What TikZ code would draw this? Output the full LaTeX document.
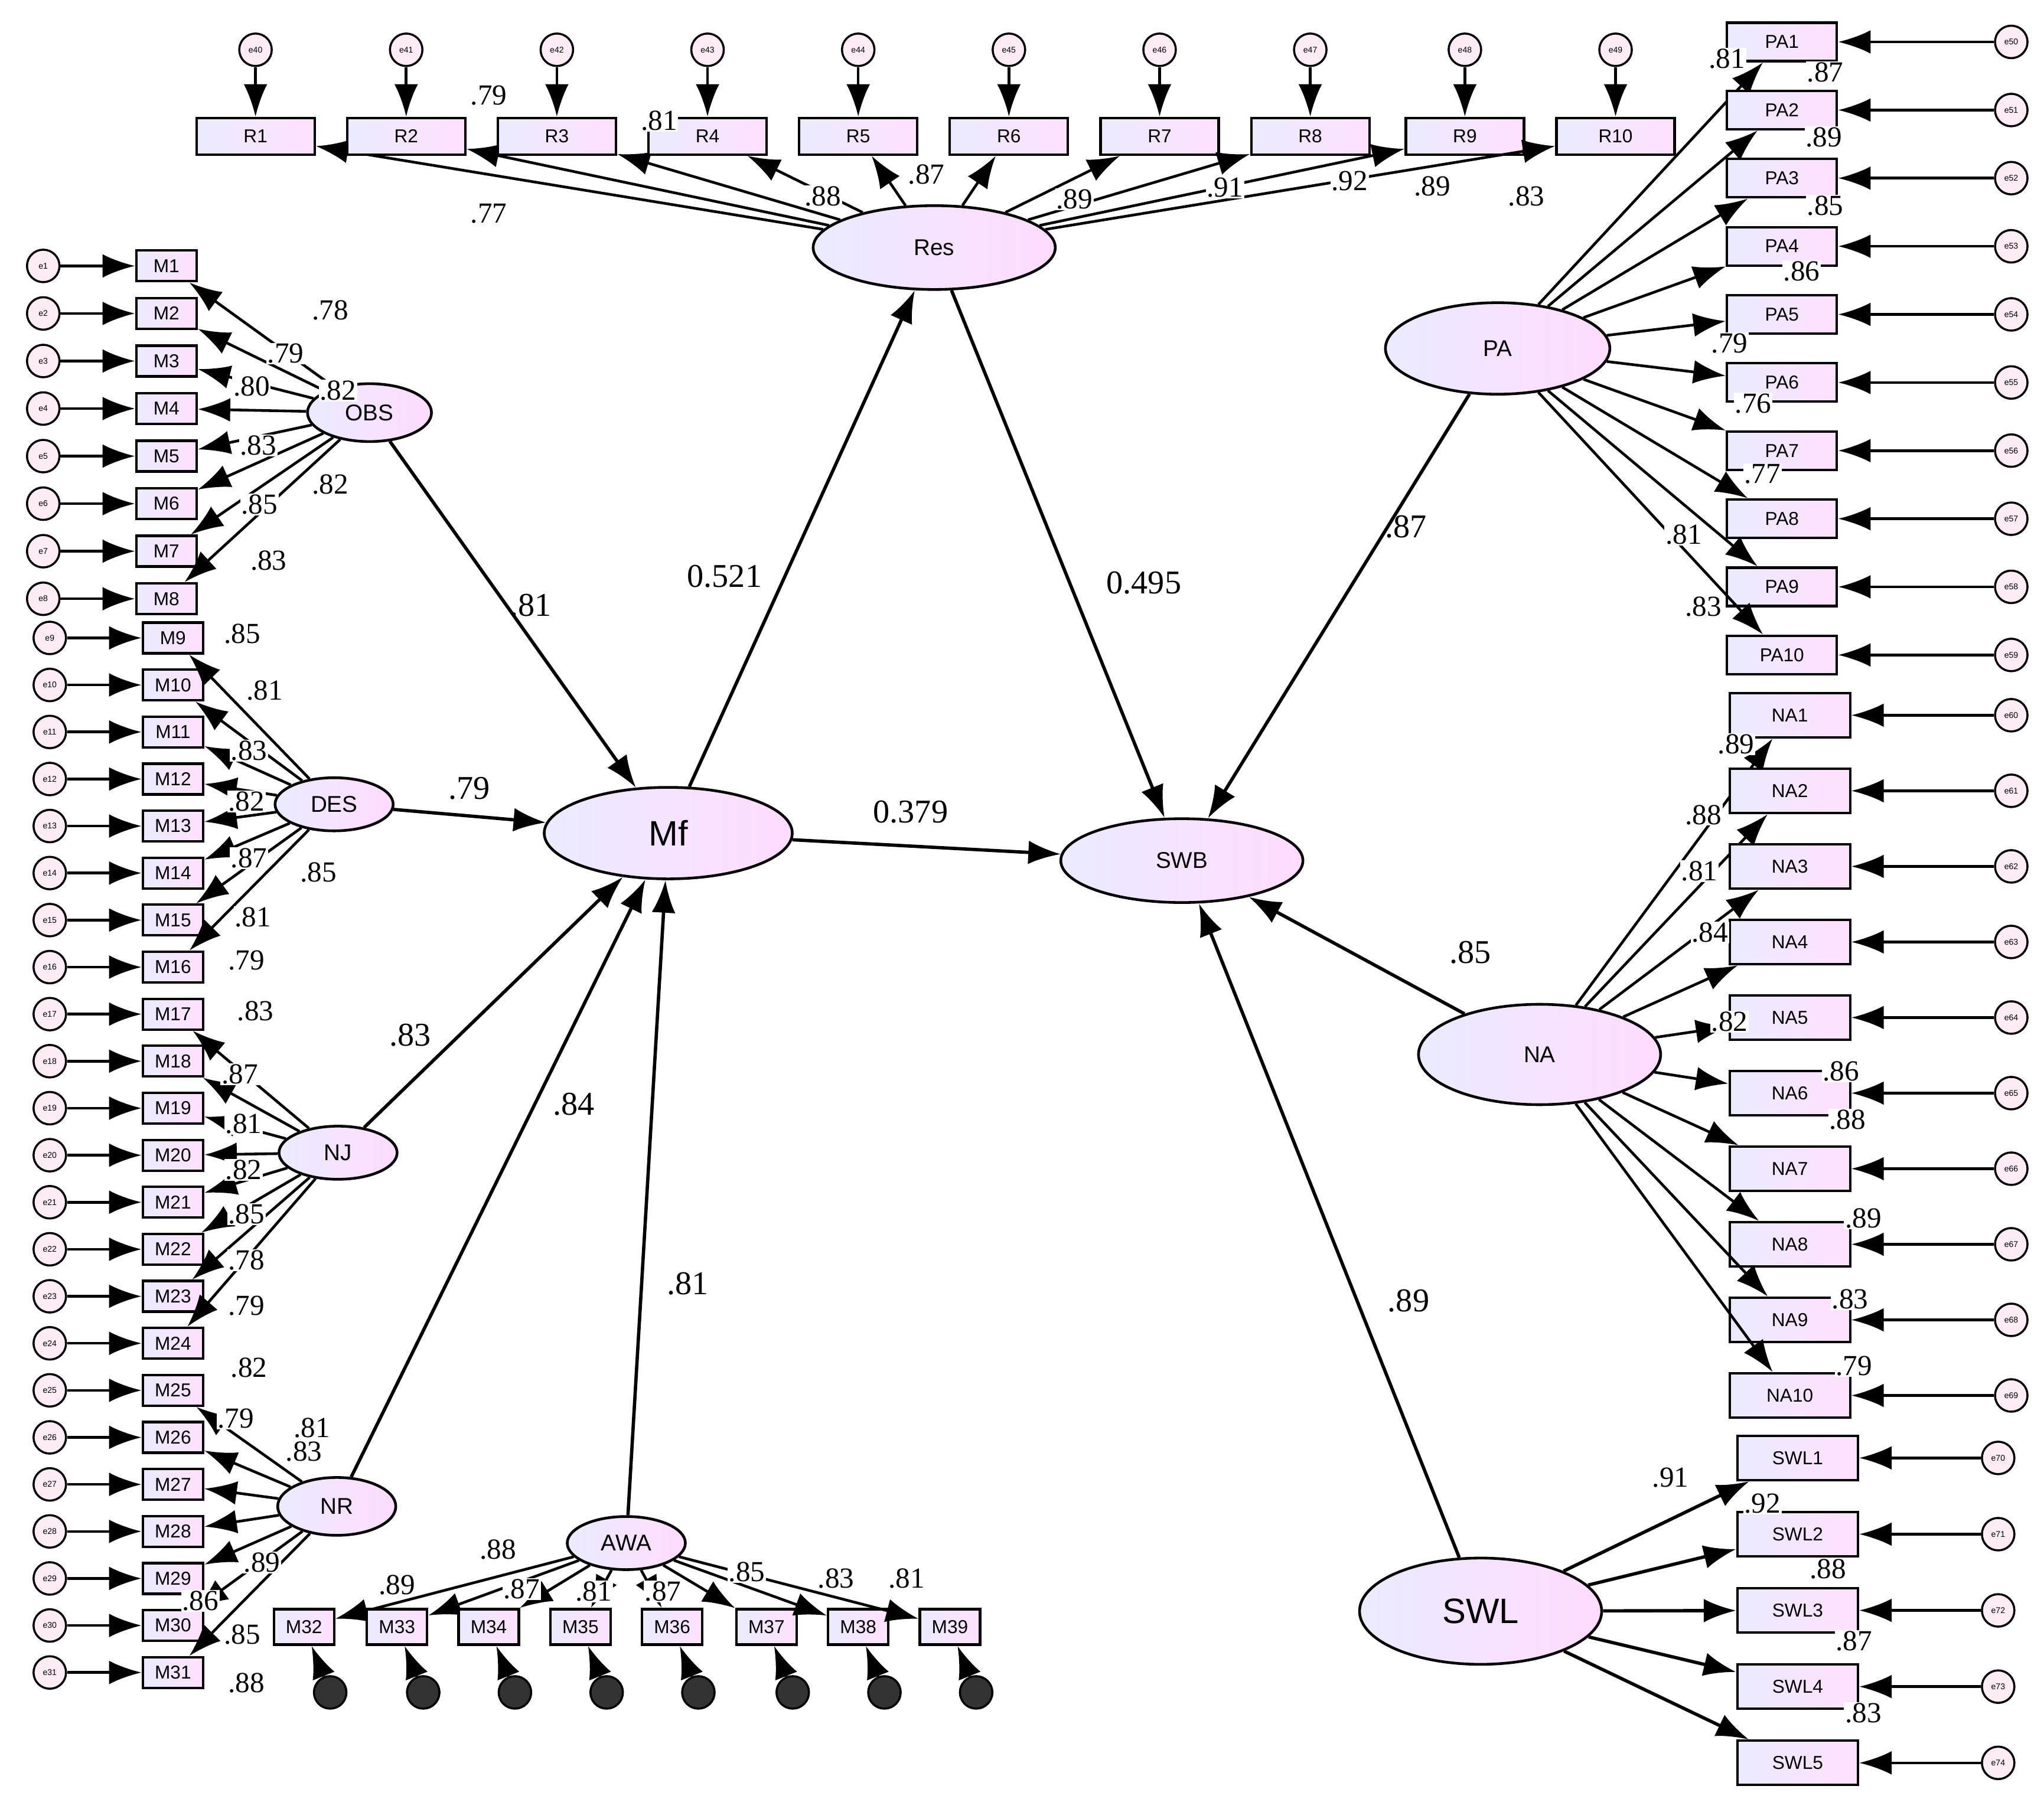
\documentclass[tikz,border=0pt]{standalone}
\usepackage{fontspec}
\setmainfont{Liberation Serif}
\newfontfamily\sff{Liberation Sans}
\usetikzlibrary{shapes.geometric,arrows.meta}
\begin{document}
\begin{tikzpicture}[x=0.02218cm,y=-0.02218cm,
 bx/.style={draw,line width=1.2pt,left color=blue!8,right color=magenta!12,inner sep=0pt,font=\sff\fontsize{9}{9}\selectfont},
 lv/.style={draw,ellipse,line width=1.3pt,left color=blue!8,right color=magenta!14,inner sep=0pt,font=\sff\fontsize{11}{11}\selectfont},
 er/.style={draw,circle,line width=1pt,fill=magenta!8,minimum size=0.55cm,inner sep=0pt,font=\sff\fontsize{4}{4}\selectfont},
 ar/.style={line width=1.3pt,-{Latex[length=5.5mm,width=4mm]}},
 sar/.style={line width=1.6pt,-{Latex[length=5.5mm,width=4mm]}},
 lb/.style={font=\fontsize{14}{14}\selectfont,fill=white,inner sep=0.5pt},
 bl/.style={font=\fontsize{16}{16}\selectfont,inner sep=1pt}]
\useasboundingbox (0,0) rectangle (1560,1373);
% latent
\node[lv,minimum width=4.1cm,minimum height=1.42cm] (Res) at (713,189) {Res};
\node[lv,minimum width=4.2cm,minimum height=1.55cm,font=\sff\fontsize{17}{17}\selectfont] (Mf) at (510,636) {Mf};
\node[lv,minimum width=4.1cm,minimum height=1.42cm] (SWB) at (902,657) {SWB};
\node[lv,minimum width=3.8cm,minimum height=1.55cm] (PA) at (1143,266) {PA};
\node[lv,minimum width=4.1cm,minimum height=1.7cm] (NA) at (1175,805) {NA};
\node[lv,minimum width=4.1cm,minimum height=1.8cm,font=\sff\fontsize{17}{17}\selectfont] (SWL) at (1130,1230) {SWL};
\node[lv,minimum width=2.1cm,minimum height=0.98cm] (OBS) at (282,315) {OBS};
\node[lv,minimum width=2.0cm,minimum height=0.9cm] (DES) at (255,614) {DES};
\node[lv,minimum width=2.0cm,minimum height=0.9cm] (NJ) at (258,880) {NJ};
\node[lv,minimum width=2.0cm,minimum height=0.98cm] (NR) at (257,1150) {NR};
\node[lv,minimum width=2.0cm,minimum height=0.9cm] (AWA) at (478,1178) {AWA};
% top R
\foreach \i/\x in {1/195,2/310,3/425,4/540,5/655,6/770,7/885,8/1000,9/1118,10/1233}{
 \node[bx,minimum width=2.0cm,minimum height=0.62cm] (R\i) at (\x,104) {R\i};
 \pgfmathtruncatemacro\e{39+\i}
 \node[er] (eR\i) at (\x,38) {e\e};
 \draw[ar] (eR\i) -- (R\i);
 \draw[ar] (Res) -- (R\i);}
% left M1-M8
\foreach \i in {1,...,8}{
 \pgfmathsetmacro\y{203+(\i-1)*36.3}
 \node[bx,minimum width=1.02cm,minimum height=0.52cm] (M\i) at (127,\y) {M\i};
 \node[er] (eM\i) at (33,\y) {e\i};
 \draw[ar] (eM\i) -- (M\i);
 \draw[ar] (OBS) -- (M\i);}
\foreach \i in {9,...,31}{
 \pgfmathsetmacro\y{487+(\i-9)*35.9}
 \node[bx,minimum width=1.02cm,minimum height=0.52cm] (M\i) at (132,\y) {M\i};
 \node[er] (eM\i) at (38,\y) {e\i};
 \draw[ar] (eM\i) -- (M\i);}
\foreach \i in {9,...,16}{\draw[ar] (DES) -- (M\i);}
\foreach \i in {17,...,24}{\draw[ar] (NJ) -- (M\i);}
\foreach \i in {25,...,31}{\draw[ar] (NR) -- (M\i);}
% bottom M32-39
\foreach \i/\x in {32/232,33/303,34/373,35/443,36/513,37/585,38/655,39/725}{
 \node[bx,minimum width=1.02cm,minimum height=0.6cm] (M\i) at (\x,1242) {M\i};
 \node[er,fill=black!80] (eM\i) at (\x+20,1292) {};
 \draw[ar] (eM\i) -- (M\i);
 \draw[ar] (AWA) -- (M\i);}
% PA
\foreach \i in {1,...,10}{
 \pgfmathsetmacro\y{32+(\i-1)*52}
 \node[bx,minimum width=1.86cm,minimum height=0.65cm] (PA\i) at (1360,\y) {PA\i};
 \pgfmathtruncatemacro\e{49+\i}
 \node[er] (ePA\i) at (1535,\y) {e\e};
 \draw[ar] (ePA\i) -- (PA\i);
 \draw[ar] (PA) -- (PA\i);}
\foreach \i in {1,...,10}{
 \pgfmathsetmacro\y{546+(\i-1)*57.7}
 \node[bx,minimum width=2.04cm,minimum height=0.75cm] (NA\i) at (1366,\y) {NA\i};
 \pgfmathtruncatemacro\e{59+\i}
 \node[er] (eNA\i) at (1535,\y) {e\e};
 \draw[ar] (eNA\i) -- (NA\i);
 \draw[ar] (NA) -- (NA\i);}
\foreach \i in {1,...,5}{
 \pgfmathsetmacro\y{1113+(\i-1)*58.2}
 \node[bx,minimum width=2.04cm,minimum height=0.75cm] (SWL\i) at (1372,\y) {SWL\i};
 \pgfmathtruncatemacro\e{69+\i}
 \node[er] (eSWL\i) at (1525,\y) {e\e};
 \draw[ar] (eSWL\i) -- (SWL\i);
 \draw[sar] (SWL) -- (SWL\i);}
% structural
\foreach \a/\b in {OBS/Mf,DES/Mf,NJ/Mf,NR/Mf,AWA/Mf,Mf/Res,Mf/SWB,Res/SWB,PA/SWB,NA/SWB,SWL/SWB}{\draw[sar] (\a) -- (\b);}
% structural labels
\foreach \t/\x/\y in {.81/405/462,.79/358/602,.83/313/790,.84/438/843,.81/525/980,0.521/553/440,0.379/695/620,0.495/873/445,.87/1073/402,.85/1122/727,.89/1075/993}{\node[bl] at (\x,\y) {\t};}
% loading labels
\foreach \t/\x/\y in {.77/373/163,.79/373/73,.81/503/92,.88/628/150,.87/707/133,.89/820/152,.91/935/143,.92/1030/138,.89/1093/142,.83/1165/150,
.78/252/237,.79/218/270,.80/192/295,.82/258/298,.83/197/340,.85/198/385,.82/252/370,.83/205/428,
.85/185/484,.81/202/527,.83/190/573,.82/188/612,.87/190/655,.85/243/666,.81/193/700,.79/188/733,
.83/195/772,.87/183/820,.81/186/858,.82/186/893,.85/188/927,.78/188/962,.79/188/997,.82/190/1044,
.79/180/1083,.81/238/1090,.83/232/1108,.89/200/1193,.86/153/1222,.85/185/1248,.88/188/1285,
.88/380/1183,.89/303/1210,.87/398/1213,.81/453/1215,.87/506/1215,.85/570/1200,.83/638/1205,.81/692/1205,
.81/1318/45,.87/1393/55,.89/1392/105,.85/1393/157,.86/1375/207,.79/1320/262,.76/1338/308,.77/1345/362,.81/1285/408,.83/1300/463,
.89/1325/568,.88/1300/622,.81/1297/665,.84/1305/712,.82/1320/780,.86/1405/818,.88/1410/855,.89/1422/930,.83/1412/992,.79/1415/1043,
.91/1275/1128,.92/1345/1148,.88/1395/1198,.87/1415/1253,.83/1422/1308}{\node[lb] at (\x,\y) {\t};}
\end{tikzpicture}
\end{document}
